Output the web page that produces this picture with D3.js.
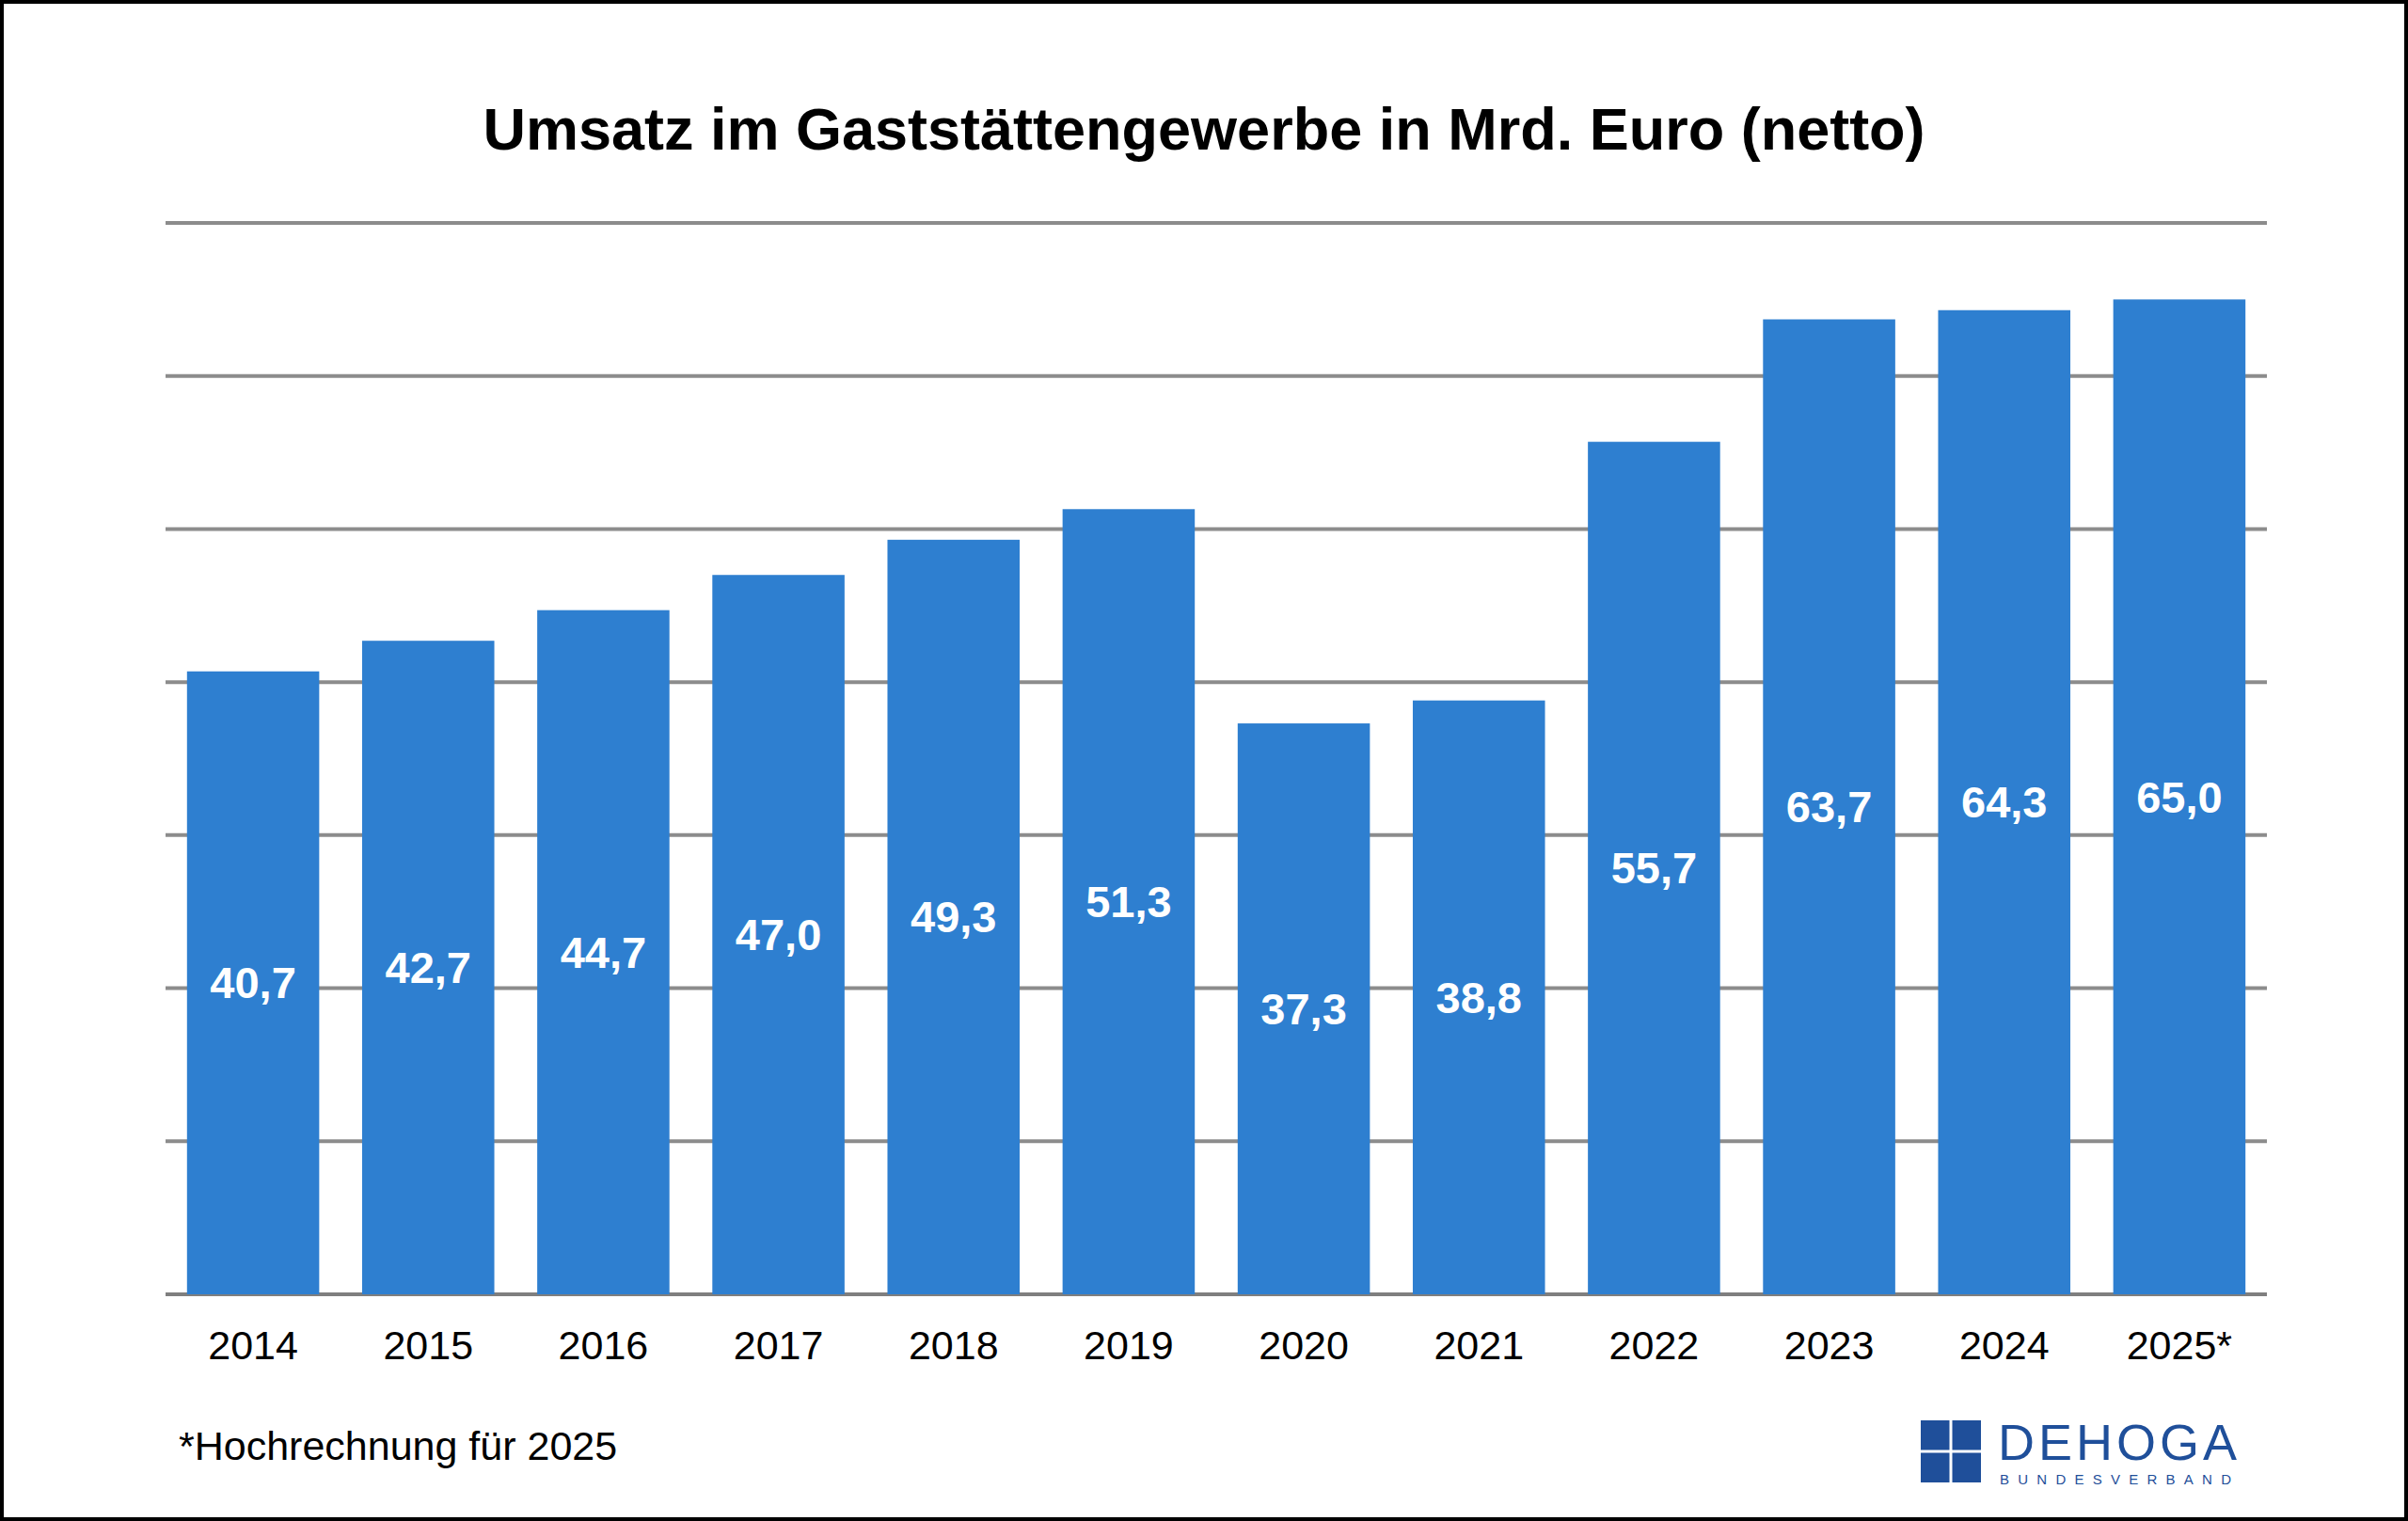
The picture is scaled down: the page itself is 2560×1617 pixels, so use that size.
<!DOCTYPE html>
<html><head><meta charset="utf-8">
<script src="https://cdn.jsdelivr.net/npm/d3@7"></script>
<style>html,body{margin:0;padding:0;background:#fff}svg{display:block}</style>
</head><body>
<svg id="c" width="2560" height="1617"></svg>
<script>
const years = ["2014","2015","2016","2017","2018","2019","2020","2021","2022","2023","2024","2025*"];
const values = [40.7,42.7,44.7,47.0,49.3,51.3,37.3,38.8,55.7,63.7,64.3,65.0];
const gridTicks = [0,10,20,30,40,50,60,70];
const title = "Umsatz im Gaststättengewerbe in Mrd. Euro (netto)";
const footnote = "*Hochrechnung für 2025";

const svg = d3.select("#c");
const F = "Liberation Sans, Arial, sans-serif";
svg.append("rect").attr("x",2).attr("y",2).attr("width",2556).attr("height",1613)
  .attr("fill","#fff").attr("stroke","#000").attr("stroke-width",4);

const L=176, R=2410, T=237, B=1376;
const x = d3.scaleBand().domain(years).range([L,R]).paddingInner(0.245).paddingOuter(0.1225);
const y = d3.scaleLinear().domain([0,70]).range([B,T]);

svg.append("text").attr("x",1280).attr("y",159).attr("text-anchor","middle")
  .attr("font-family",F).attr("font-weight","bold").attr("font-size",63).text(title);

svg.append("g").selectAll("line").data(gridTicks).join("line")
  .attr("x1",L).attr("x2",R).attr("y1",d=>y(d)).attr("y2",d=>y(d))
  .attr("stroke",d=>d===0?"#7f7f7f":"#8c8c8c").attr("stroke-width",4);

svg.append("g").selectAll("rect").data(values).join("rect")
  .attr("x",(d,i)=>x(years[i])).attr("width",x.bandwidth())
  .attr("y",d=>y(d)).attr("height",d=>B-y(d)).attr("fill","#2e7fd0");

svg.append("g").selectAll("text").data(values).join("text")
  .attr("x",(d,i)=>x(years[i])+x.bandwidth()/2).attr("y",d=>(y(d)+B)/2)
  .attr("dy","0.35em").attr("text-anchor","middle").attr("fill","#fff")
  .attr("font-family",F).attr("font-weight","bold").attr("font-size",47)
  .text(d=>d.toFixed(1).replace(".",","));

svg.append("g").selectAll("text").data(years).join("text")
  .attr("x",d=>x(d)+x.bandwidth()/2).attr("y",1445).attr("text-anchor","middle")
  .attr("font-family",F).attr("font-size",43).text(d=>d);

svg.append("text").attr("x",190).attr("y",1552).attr("font-family",F).attr("font-size",43).text(footnote);

// logo
const lg = svg.append("g");
lg.append("rect").attr("x",2042).attr("y",1510).attr("width",64).attr("height",66).attr("fill","#1f4f9a");
lg.append("line").attr("x1",2074).attr("x2",2074).attr("y1",1510).attr("y2",1576).attr("stroke","#fff").attr("stroke-width",3);
lg.append("line").attr("x1",2042).attr("x2",2106).attr("y1",1543).attr("y2",1543).attr("stroke","#fff").attr("stroke-width",3);
lg.append("text").attr("x",2124).attr("y",1552).attr("font-family",F).attr("font-size",54).attr("fill","#1f4f9a").attr("textLength",254).text("DEHOGA");
lg.append("text").attr("x",2126).attr("y",1578).attr("font-family",F).attr("font-size",15).attr("fill","#1f4f9a").attr("textLength",252).attr("letter-spacing",6).text("BUNDESVERBAND");
</script>
</body></html>
